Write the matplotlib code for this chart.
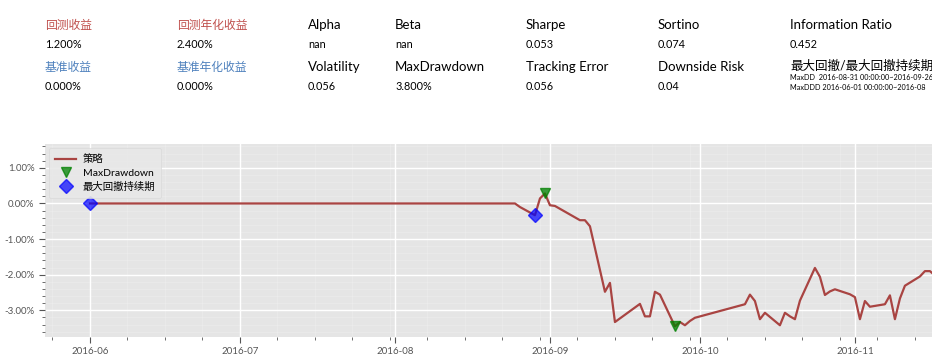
import pandas as pd
import matplotlib
matplotlib.use("Agg")
import matplotlib.pyplot as plt
import matplotlib.dates as mdates
from matplotlib.ticker import AutoMinorLocator, FuncFormatter

# strategy cumulative return (%) on trading days
dates = ["2016-06-01", "2016-08-25", "2016-08-26", "2016-08-29", "2016-08-30",
         "2016-08-31", "2016-09-01", "2016-09-02", "2016-09-05", "2016-09-06",
         "2016-09-07", "2016-09-08", "2016-09-09", "2016-09-12", "2016-09-13",
         "2016-09-14", "2016-09-19", "2016-09-20", "2016-09-21", "2016-09-22",
         "2016-09-23", "2016-09-26", "2016-09-27", "2016-09-28", "2016-09-29",
         "2016-09-30", "2016-10-10", "2016-10-11", "2016-10-12", "2016-10-13",
         "2016-10-14", "2016-10-17", "2016-10-18", "2016-10-19", "2016-10-20",
         "2016-10-21", "2016-10-24", "2016-10-25", "2016-10-26", "2016-10-27",
         "2016-10-28", "2016-10-31", "2016-11-01", "2016-11-02", "2016-11-03",
         "2016-11-04", "2016-11-07", "2016-11-08", "2016-11-09", "2016-11-10",
         "2016-11-11", "2016-11-14", "2016-11-15", "2016-11-16", "2016-11-17"]
returns = [0.0, 0.0, -0.10, -0.33, 0.14,
           0.28, -0.05, -0.07, -0.31, -0.39,
           -0.47, -0.47, -0.64, -2.48, -2.23,
           -3.33, -2.82, -3.17, -3.17, -2.48,
           -2.56, -3.45, -3.33, -3.42, -3.30,
           -3.21, -2.83, -2.56, -2.74, -3.25,
           -3.07, -3.42, -3.07, -3.17, -3.25,
           -2.73, -1.81, -2.06, -2.57, -2.47,
           -2.41, -2.55, -2.63, -3.25, -2.74,
           -2.90, -2.83, -2.58, -3.25, -2.67,
           -2.31, -2.05, -1.90, -1.90, -2.02]

maxdd_dates = ["2016-08-31", "2016-09-26"]
maxdd_values = [0.28, -3.45]
maxddd_dates = ["2016-06-01", "2016-08-29"]
maxddd_values = [0.0, -0.33]

row1_labels = ["回测收益", "回测年化收益", "Alpha", "Beta", "Sharpe", "Sortino", "Information Ratio"]
row1_values = ["1.200%", "2.400%", "nan", "nan", "0.053", "0.074", "0.452"]
row2_labels = ["基准收益", "基准年化收益", "Volatility", "MaxDrawdown", "Tracking Error", "Downside Risk"]
row2_values = ["0.000%", "0.000%", "0.056", "3.800%", "0.056", "0.04"]
col_x = [45, 177, 308, 395, 526, 658, 790]

RED = "#c0504d"
BLUE = "#4f81bd"
FONT = ["Lato", "Noto Sans CJK SC", "DejaVu Sans"]

plt.style.use("ggplot")
plt.rcParams["font.family"] = FONT

W, H = 932, 360
fig = plt.figure(figsize=(W / 100, H / 100), dpi=100)
fig.patch.set_facecolor("white")


def fx(px):
    return px / W


def fy(py):
    return 1 - py / H


# header block: first two columns are Chinese (smaller glyph size)
for i, (lab, val) in enumerate(zip(row1_labels, row1_values)):
    color = RED if i < 2 else "black"
    size = 8.5 if i < 2 else 9.5
    fig.text(fx(col_x[i]), fy(25), lab, color=color, fontsize=size, va="center")
    fig.text(fx(col_x[i]), fy(44), val, color="black", fontsize=7.8, va="center")
for i, (lab, val) in enumerate(zip(row2_labels, row2_values)):
    color = BLUE if i < 2 else "black"
    size = 8.5 if i < 2 else 9.5
    fig.text(fx(col_x[i]), fy(67), lab, color=color, fontsize=size, va="center")
    fig.text(fx(col_x[i]), fy(86), val, color="black", fontsize=7.8, va="center")

fig.text(fx(790), fy(66), "最大回撤/最大回撤持续期", color="black", fontsize=9, va="center")
fig.text(fx(790), fy(77), "MaxDD  2016-08-31 00:00:00~2016-09-26", color="black",
         fontsize=5.2, va="center")
fig.text(fx(790), fy(87), "MaxDDD 2016-06-01 00:00:00~2016-08", color="black",
         fontsize=5.2, va="center")

ax = fig.add_axes([fx(45), fy(337), 1 - fx(45), (337 - 144) / H])
ax.set_facecolor("#e5e5e5")

x = pd.to_datetime(dates)
ax.plot(x, returns, color="#a94442", linewidth=1.6, label="策略")
ax.plot(pd.to_datetime(maxdd_dates), maxdd_values, "v", color="green", markersize=7,
        alpha=0.75, linestyle="none", label="MaxDrawdown")
ax.plot(pd.to_datetime(maxddd_dates), maxddd_values, "D", color="blue", markersize=7,
        alpha=0.7, linestyle="none", label="最大回撤持续期")

ax.set_xlim(pd.Timestamp("2016-05-23"), pd.Timestamp("2016-11-16 10:00"))
ax.set_ylim(-3.75, 1.67)

ax.xaxis.set_major_locator(mdates.MonthLocator())
ax.xaxis.set_major_formatter(mdates.DateFormatter("%Y-%m"))
ax.xaxis.set_minor_locator(AutoMinorLocator(4))
ax.yaxis.set_major_formatter(FuncFormatter(lambda v, p: "%.2f%%" % v))
ax.yaxis.set_minor_locator(AutoMinorLocator(5))

ax.grid(True, which="major", color="white", linewidth=1.0)
ax.grid(True, which="minor", color="white", linewidth=0.5, alpha=0.25)
ax.tick_params(axis="both", which="major", labelsize=7, colors="#555555", length=4)
ax.tick_params(axis="both", which="minor", length=2, colors="#555555")
for s in ax.spines.values():
    s.set_visible(False)

leg = ax.legend(loc="upper left", fontsize=7.5, frameon=True, facecolor="#e8e8e8",
                edgecolor="#d8d8d8", framealpha=0.9, borderaxespad=0.4, borderpad=0.6,
                handlelength=2.0, handletextpad=0.6, labelspacing=0.4)

fig.savefig("out.png", dpi=100, facecolor="white")
